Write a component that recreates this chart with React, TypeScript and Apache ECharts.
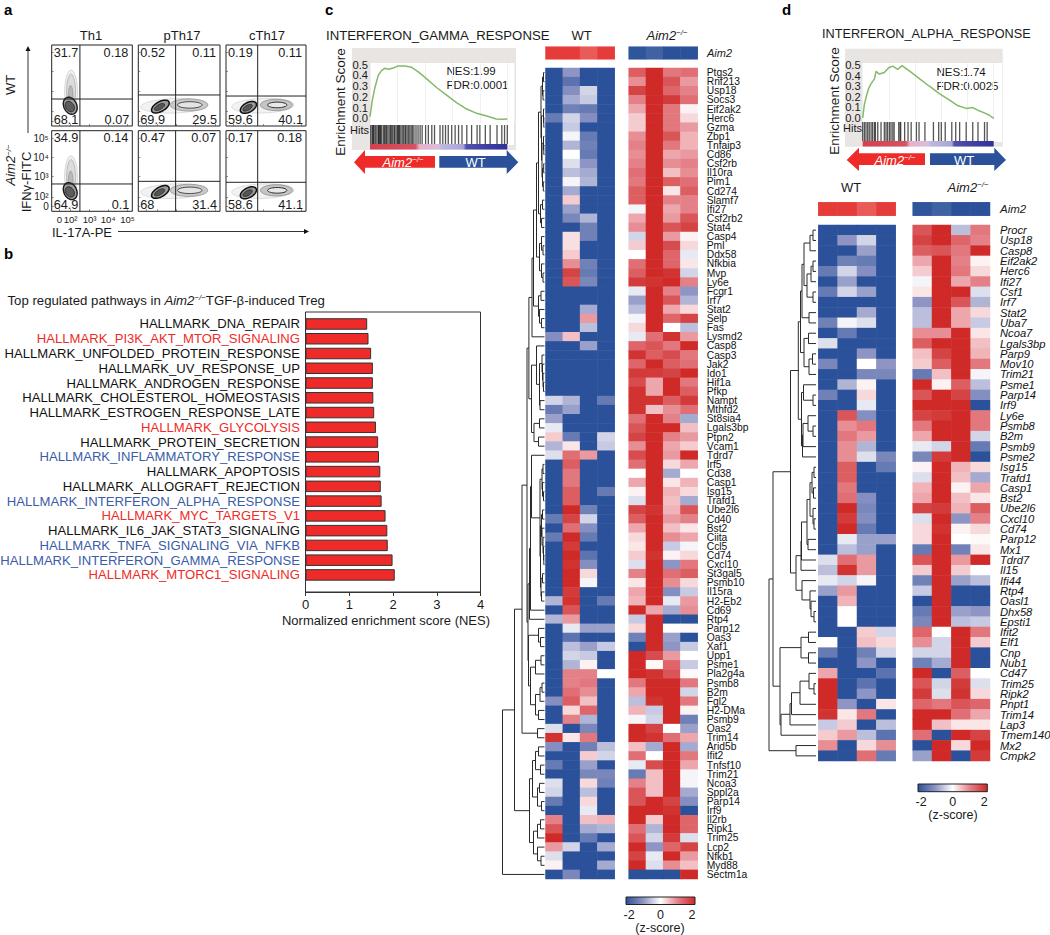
import React, { useEffect, useRef } from "react";
import * as echarts from "echarts";

const FONT = '"Liberation Sans", Arial, sans-serif';
const BLUE = "#2a5199";
const RED = "#ee2b28";
const HEAT = ["#2a5199", "#8e95c4", "#ffffff", "#e48088", "#cf2a27"];

// ---------- panel a
const flowCols = ["Th1", "pTh17", "cTh17"];
const flowTL = [["31.7", "0.52", "0.19"], ["34.9", "0.47", "0.17"]];
const flowTR = [["0.18", "0.11", "0.11"], ["0.14", "0.07", "0.18"]];
const flowBL = [["68.1", "69.9", "59.6"], ["64.9", "68", "58.6"]];
const flowBR = [["0.07", "29.5", "40.1"], ["0.1", "31.4", "41.1"]];
const gates = [
  [[35, 33.3], [45.7, 38.3], [39.6, 37]],
  [[35, 33.9], [45.7, 37.2], [39.6, 36]],
];
// cx, cy, rx, ry, rotation, fill, stroke, line width
const blobsTh1: any[] = [
  [24, 42, 8, 27, 0, "#efefef", "#c4c4c4", 0.6],
  [24, 42, 5.5, 22, 0, "#dcdcdc", "#a8a8a8", 0.7],
  [23.5, 36, 3, 14, 0, "#b9b9b9", "#8a8a8a", 0.6],
  [23, 25, 8, 11, 25, "#9c9c9c", "#1c1c1c", 1.4],
  [22.5, 24, 5, 7, 35, "#5d5d5d", "#222222", 0.9],
];
const blobsPTh17: any[] = [
  [44, 25, 41, 9, 2, "#f2f2f2", "#c9c9c9", 0.6],
  [62, 26, 23, 7.5, 0, "#c9c9c9", "#8a8a8a", 0.7],
  [63, 26, 15, 4, 0, "#e4e4e4", "#3a3a3a", 0.9],
  [27, 24, 12, 6, 30, "#999999", "#111111", 1.5],
  [26, 23.5, 7, 3, 30, "#555555", "#222222", 0.8],
];
const blobsCTh17: any[] = [
  [46, 25, 39, 9, 2, "#f2f2f2", "#c9c9c9", 0.6],
  [63, 26, 20, 7, 0, "#c4c4c4", "#828282", 0.7],
  [64, 26, 12, 3.5, 0, "#e8e8e8", "#2a2a2a", 1],
  [28, 23, 11, 6, 28, "#999999", "#111111", 1.5],
  [27, 22.5, 6.5, 3, 30, "#555555", "#222222", 0.8],
];
const flowXTicks = [9.5, 23.5, 47, 70, 94];
const flowXLabels = ["0", "10²", "10³", "10⁴", "10⁵"];
const flowYTicks = [5.8, 18, 43, 67, 90.5];
const flowYLabels = ["0", "10²", "10³", "10⁴", "10⁵"];

// ---------- panel b
const pathways = [
  "HALLMARK_DNA_REPAIR", "HALLMARK_PI3K_AKT_MTOR_SIGNALING", "HALLMARK_UNFOLDED_PROTEIN_RESPONSE",
  "HALLMARK_UV_RESPONSE_UP", "HALLMARK_ANDROGEN_RESPONSE", "HALLMARK_CHOLESTEROL_HOMEOSTASIS",
  "HALLMARK_ESTROGEN_RESPONSE_LATE", "HALLMARK_GLYCOLYSIS", "HALLMARK_PROTEIN_SECRETION",
  "HALLMARK_INFLAMMATORY_RESPONSE", "HALLMARK_APOPTOSIS", "HALLMARK_ALLOGRAFT_REJECTION",
  "HALLMARK_INTERFERON_ALPHA_RESPONSE", "HALLMARK_MYC_TARGETS_V1", "HALLMARK_IL6_JAK_STAT3_SIGNALING",
  "HALLMARK_TNFA_SIGNALING_VIA_NFKB", "HALLMARK_INTERFERON_GAMMA_RESPONSE", "HALLMARK_MTORC1_SIGNALING",
];
const pathwayColors = ["#111", "#ee2b28", "#111", "#111", "#111", "#111", "#111", "#ee2b28", "#111", "#3a5ba8", "#111", "#111", "#3a5ba8", "#ee2b28", "#111", "#3a5ba8", "#3a5ba8", "#ee2b28"];
const nes = [1.41, 1.44, 1.5, 1.54, 1.54, 1.55, 1.57, 1.61, 1.66, 1.68, 1.71, 1.72, 1.74, 1.83, 1.87, 1.88, 1.99, 2.04];

// ---------- GSEA
const gammaX = [0, 1.7, 3.6, 6, 8.5, 10.9, 13.3, 17, 20.6, 25.5, 30.3, 35.2, 41.3, 48.5, 55.8, 63, 70.4, 77.7, 85, 92, 96, 100];
const gammaES = [0.015, 0.17, 0.287, 0.4, 0.447, 0.466, 0.457, 0.469, 0.488, 0.488, 0.475, 0.432, 0.367, 0.287, 0.216, 0.145, 0.086, 0.046, 0.022, -0.006, -0.009, -0.006];
const gammaHits = [0.5, 1.5, 2, 2.5, 3, 4, 5, 6, 6.3, 7, 7.5, 8, 8.7, 10, 10.5, 11.5, 12, 13, 14, 15, 15.5, 16.5, 17.5, 18, 19, 20, 20.5, 21, 21.5, 22.5, 23.5, 24.5, 25.5, 26, 27, 28, 29, 30, 31, 32, 33.5, 35, 36.5, 38, 40.5, 42.5, 45, 47, 51, 53, 55, 57, 59.5, 62, 64.5, 67, 70.5, 74, 78, 80, 84, 87.5, 92.5, 96, 98, 100];
const alphaX = [0, 1.3, 3, 4.6, 6.4, 9, 10.2, 12.7, 16.5, 19.8, 22.9, 26.7, 30, 35.6, 43, 50.9, 58.5, 66, 72.5, 78.9, 84, 87.8, 92.9, 96.7, 100];
const alphaES = [0, 0.13, 0.215, 0.28, 0.325, 0.37, 0.44, 0.415, 0.43, 0.475, 0.49, 0.46, 0.495, 0.445, 0.375, 0.3, 0.23, 0.17, 0.117, 0.09, 0.098, 0.073, 0.047, 0.025, -0.005];
const alphaHits = [0, 1.3, 2.5, 3.8, 5, 6.4, 7.6, 9, 9.7, 11.5, 14, 16.5, 17.8, 19, 20.4, 21.6, 23, 24, 27.5, 28.5, 29, 32, 34.6, 37, 41, 43, 47.5, 54, 58, 60, 63, 68, 71, 74, 79, 84, 88, 93, 95];
const esTicks = [0, 0.1, 0.2, 0.3, 0.4, 0.5];
const zTicks = [-2, 0, 2];

// ---------- panel c
const cGenes = ["Ptgs2", "Rnf213", "Usp18", "Socs3", "Eif2ak2", "Herc6", "Gzma", "Zbp1", "Tnfaip3", "Cd86", "Csf2rb", "Il10ra", "Pim1", "Cd274", "Slamf7", "Ifi27", "Csf2rb2", "Stat4", "Casp4", "Pml", "Ddx58", "Nfkbia", "Mvp", "Ly6e", "Fcgr1", "Irf7", "Stat2", "Selp", "Fas", "Lysmd2", "Casp8", "Casp3", "Jak2", "Ido1", "Hif1a", "Pfkp", "Nampt", "Mthfd2", "St8sia4", "Lgals3bp", "Ptpn2", "Vcam1", "Tdrd7", "Irf5", "Cd38", "Casp1", "Isg15", "Trafd1", "Ube2l6", "Cd40", "Bst2", "Ciita", "Ccl5", "Cd74", "Cxcl10", "St3gal5", "Psmb10", "Il15ra", "H2-Eb2", "Cd69", "Rtp4", "Parp12", "Oas3", "Xaf1", "Upp1", "Psme1", "Pla2g4a", "Psmb8", "B2m", "Fgl2", "H2-DMa", "Psmb9", "Oas2", "Trim14", "Arid5b", "Ifit2", "Tnfsf10", "Trim21", "Ncoa3", "Sppl2a", "Parp14", "Irf9", "Il2rb", "Ripk1", "Trim25", "Lcp2", "Nfkb1", "Myd88", "Sectm1a"];
const cWT = [
  [-2,-1,-2,-2],[-2,-1.5,-2,-2],[-2,-1.1,-.4,-2],[-2,-.8,-.5,-2],[-2,-1.3,-1.4,-2],[-1.4,-.4,-1.1,-2],[-2,-.5,-2,-2],[-2,-.1,-1.4,-2],[-2,-.7,-1.3,-2],[-2,0,-1.4,-2],
  [-2,-.3,-1,-2],[-2,-.6,-.8,-2],[-2,-.1,-.7,-2],[-2,-.8,-2,-2],[-2,.4,-2,-2],[-2,-.9,-2,-2],[-2,-1.2,-.7,-2],[-2,-2,-1.3,-2],[-2,.25,-1.3,-2],[-2,.25,-2,-2],
  [-2,.4,-2,-2],[-2,.9,-1.3,-2],[-2,1.7,-1.4,-2],[-2,1.5,-1.2,-2],[-2,-2,-2,-2],[-2,-2,-2,-2],[-2,-2,-.8,-2],[-2,-2,.8,-2],[-2,-2,-.6,-2],[-1.1,.5,-2,-2],
  [-2,-2,-.9,-2],[-2,-2,-2,-2],[-2,-2,-2,-2],[-2,-2,-2,-2],[-2,-2,-2,-2],[-2,-2,-2,-2],[-.4,-.7,-2,-1.4],[-1.4,-.9,-2,-2],[-.9,-2,-2,-2],[-.2,-2,-2,-2],
  [.4,-1.4,-2,-.4],[-.7,.2,-2,-.5],[-.3,1.2,.8,-2],[-2,1.4,-2,-2],[-2,1.1,-2,-2],[-2,1.1,-2,-2],[-2,1.4,-2,-1.4],[-2,1.4,-2,-2],[-2,2,-1.3,-2],[-1.4,1.7,-.4,-2],
  [-2,1.2,-1.1,-2],[-1.4,2,-1.4,-2],[-2,1.8,-2,-2],[-2,2,-1.5,-2],[-2,1.9,-1.1,-2],[-2,2,.3,-2],[-2,2,-.1,-2],[-2,1.8,-2,-2],[-.7,1.9,-2,-1.4],[-2,1.5,-2,-2],
  [-.7,.8,-2,-2],[-2,-.2,-.9,-.9],[-2,-1.5,-2,-2],[-2,-.6,-.9,-.5],[-2,-.4,-.5,-2],[-2,-.7,.1,-2],[-2,1,1,0],[-2,1,1.1,-2],[-2,1.2,.9,-2],[-1.1,1.4,.5,-2],
  [-2,.3,1.3,-2],[-2,1,-.7,-2],[-.3,-2,-1.2,-2],[1.9,.2,1.1,-2],[-1.1,-2,-1.3,-.6],[-2,-2,.4,-.4],[-1.4,-2,-.9,-2],[-2,-2,-1.2,-1.2],[-.3,-2,.3,-1.3],[-.4,-2,-.6,-2],
  [-1.4,-2,.3,-2],[-2,-2,-.2,-2],[1,-2,.5,.6],[1.5,-2,-.8,-.7],[2,-2,-1.4,-2],[.8,-.4,-2,-.8],[-.3,-2,-2,-2],[.1,-2,-2,-.8],[-2,-1.2,-2,-2],
];
const cKO = [
  [1.4,2,1.1,1.2],[.9,2,1.5,.8],[1.7,2,1.3,1],[1,2,1.8,1.2],[.7,2,1.1,.1],[.4,2,1.1,.3],[.4,2,1.1,.8],[.9,2,1.5,.6],[1,2,1.1,.6],[.9,2,.7,.8],
  [1,2,.9,1],[1.2,2,.5,.9],[1.1,2,1.4,1.2],[1.4,2,.2,1.4],[1.4,2,1,1],[-.1,2,.7,1],[.7,2,.8,1.5],[.9,2,1.5,1.7],[-.4,2,.8,.1],[.4,2,1.6,.3],
  [0,2,1.3,-.2],[1.2,2,1.3,.2],[1.4,2,1.9,-.4],[1.8,1.9,2,1],[-.2,2,1,-1],[-.9,2,1.5,-.7],[-.6,2,.7,.3],[-.1,2,1.3,1.7],[.3,2,0,-.6],[-.2,1.2,1.9,.8],
  [1.3,1.5,1.1,2],[1.9,1.4,1.6,1.1],[1.3,2,1.4,1.2],[1.8,1.8,1.7,2],[1.6,.7,2,1.1],[1.9,.7,2,1.4],[1.9,1.9,1.4,1.8],[1.9,.5,.9,1.2],[1.2,2,1,-.8],[1.5,2,2,.5],
  [1.7,2,1,.8],[.9,2,.7,.4],[1.6,2,.8,2],[1.2,2,.3,.7],[0,2,-.8,0],[.7,2,.2,.6],[.1,2,.6,.3],[-.3,2,.5,-.8],[1.7,1.9,.6,1.5],[1.4,2,.8,1],
  [.7,2,.5,.2],[.3,2,.9,.7],[.2,2,-.5,-.1],[.4,1.9,.1,.3],[-.3,2,-1,1.1],[1,2,1.2,1.4],[.2,2,.9,.3],[.7,2,-1.1,-.5],[.6,2,-.2,.8],[2,.7,-.8,.9],
  [-.5,2,-2,-2],[.3,2,0,.05],[-1.3,2,-.9,-2],[-2,2,-1,-.5],[2,1.6,.8,0],[2,.05,1.3,-.5],[2,1.9,1.5,.05],[1.1,2,2,1.1],[.7,2,2,-.4],[-.6,1.9,2,1.1],
  [.6,-.5,2,.1],[-.1,-.4,2,-1.3],[2,1.7,0,-.9],[2,1.9,1.2,.7],[.5,-.8,2,-.8],[1.2,0,2,1.1],[-.2,1.6,2,.7],[-1.4,.5,2,-.1],[1,.5,2,-.1],[1.5,.5,2,-.8],
  [1.5,2,1.7,-1.1],[2,2,1.9,-2],[2,.4,2,1.3],[1.2,-.7,2,1.3],[1.5,-.4,1.8,-.3],[2,-1,1.3,1.7],[1.7,-.2,2,.8],[2,-.3,.9,.5],[-2,-2,-2,2],
];
const aim2WT = [1.9, 1.9, 1.6, 1.9];
const aim2KO = [-1.95, -1.8, -2, -2];
// tree node: [height, left, right]; a plain number is a heat-map row
const cU1 = [3.5, [2, [1, 0, 1], [1.5, 2, 3]], [3, [1, 4, [0.7, 5, 6]], [2.5, [1, 7, [0.7, 8, 9]], [2, [0.8, 10, 11], [1.2, 12, 13]]]]];
const cU = [6, cU1, [4, [2, 14, 15], [3, 16, 17]]];
const cV = [5, [3, 18, [1.5, 19, 20]], [3, 21, [1.5, 22, 23]]];
const cW = [6, [3.5, 24, 25], [5, 26, [3, 27, 28]]];
const cX1 = [12.5, [11, [8, cU, cV], cW], 29];
const cA1 = [8, 30, [5, [2.5, 31, [2, 32, [1.5, 33, [1, 34, 35]]]], [4.5, 36, 37]]];
const cX = [15.6, cX1, [13, cA1, [10.5, [5, 38, 39], [6, 40, 41]]]];
const cB1 = [4.5, [2.5, [1.5, 43, 44], [2, 45, [1, 46, 47]]], [4, [3, [2, 48, 49], [2.5, 50, [1.5, 51, [1, 52, [0.7, 53, 54]]]]], [3.5, [2, 55, 56], [3, 57, 58]]]];
const cY3 = [15, [14, [13, 42, cB1], 59], 60];
const cZ3 = [9, [4.5, [2.5, 67, 68], 69], [6, 70, 71]];
const cZ5 = [16, [6, 61, [4, 62, 63]], [14, [9, [3.5, 64, 65], 66], cZ3]];
const cB = [22.5, [17.5, cX, [16.5, cY3, cZ5]], [7, 72, 73]];
const cC = [15, [12, [9, [6, 74, 75], [4, 76, 77]], [7, [5, 78, 79], [3, 80, 81]]], [11, [7, [4, 82, 83], 84], [7, 85, [3.5, 86, 87]]]];
const cTree = [42, [30, cB, cC], 88];

// ---------- panel d
const dGenes = ["Procr", "Usp18", "Casp8", "Eif2ak2", "Herc6", "Ifi27", "Csf1", "Irf7", "Stat2", "Uba7", "Ncoa7", "Lgals3bp", "Parp9", "Mov10", "Trim21", "Psme1", "Parp14", "Irf9", "Ly6e", "Psmb8", "B2m", "Psmb9", "Psme2", "Isg15", "Trafd1", "Casp1", "Bst2", "Ube2l6", "Cxcl10", "Cd74", "Parp12", "Mx1", "Tdrd7", "Il15", "Ifi44", "Rtp4", "Oasl1", "Dhx58", "Epsti1", "Ifit2", "Elf1", "Cnp", "Nub1", "Cd47", "Trim25", "Ripk2", "Pnpt1", "Trim14", "Lap3", "Tmem140", "Mx2", "Cmpk2"];
const dWT = [
  [-2,-2,-2,-2],[-2,-1,-.4,-2],[-2,-2,-.9,-2],[-2,-1.3,-1.4,-2],[-1.4,-.4,-1.1,-2],[-2,-.9,-2,-2],[-1.4,-.4,-.9,-2],[-2,-2,-2,-2],[-2,-2,-.8,-2],[-1.3,-.1,-.3,-2],
  [-2,-1.4,-2,-2],[-.3,-2,-2,-2],[-2,-2,-1,-2],[-1.2,-2,0,-1],[-2,-2,-1.2,-1.2],[-2,-.7,.1,-2],[-1.3,-2,.3,-2],[-2,-2,-.2,-2],[-2,1.5,-1.1,-2],[-2,.9,1.1,-2],
  [-2,1.1,.8,-2],[-2,.9,-.7,-2],[-2,.9,-.3,-1.2],[-2,1.4,-2,-1.4],[-2,1.4,-2,-2],[-2,1.1,-2,-2],[-2,1.2,-1.1,-2],[-2,2,-1.2,-2],[-2,1.8,-1.1,-2],[-2,2,-1.4,-2],
  [-2,-.2,-.9,-.9],[-2,-.6,-.9,-2],[-.3,1.2,.8,-2],[-.6,1.9,.8,-2],[-.2,-.4,-.1,-2],[-.9,.8,-2,-2],[-2,.6,-2,-2],[-2,0,-2,-2],[-2,0,-2,-2],[-2,-2,.4,-.4],
  [0,-2,.5,.3],[-1.4,-2,-1.3,-.4],[-2,-2,-1,-2],[.7,-2,-2,-1.5],[2,-2,-1.5,-2],[2,-2,-1,-2],[2,-1,-2,.2],[1.9,.2,1.1,-2],[-.5,.4,-2,-.6],[.4,.8,-.6,-1.5],
  [.9,-2,.3,.9],[-2,-2,1.2,-1.4],
];
const dKO = [
  [1.5,2,-.6,1.1],[1.7,2,1.3,1],[1.4,1.5,1.1,2],[.7,2,1,.1],[.4,2,1.1,.3],[-.1,2,.7,1],[.2,2,2,-.3],[-1,2,1.5,-.7],[-.6,2,.7,.3],[-.6,2,.7,-.5],
  [.9,.9,2,.2],[1.4,2,2,.5],[.5,1.7,2,.6],[.4,1.4,2,1.1],[-1.4,.5,2,-.1],[2,.1,1.4,-.6],[1.5,2,1.7,-1.1],[2,2,2,-2],[1.7,1.8,2,1.1],[1.1,2,2,1.1],
  [.7,2,2,-.4],[-.2,-.4,2,-1.4],[-1.2,1.8,2,-2],[.1,2,.6,.3],[-.3,2,.5,-.8],[.6,2,.1,.7],[.7,2,.5,.2],[1.7,1.8,.6,1.4],[-.3,2,-1,1],[.3,1.9,.1,.3],
  [.3,2,0,.05],[-1.4,2,-1.3,.2],[1.5,2,.8,2],[.4,2,.4,0],[-1.3,2,-.9,-.6],[-.5,2,-2,-2],[-2,2,-2,-2],[-1.4,2,-.9,-1],[-1.2,2,-.6,-.5],[1.3,0,2,1.1],
  [.9,-.4,2,.4],[-.4,-.4,2,-2],[-1.3,-.8,2,-2],[2,-2,1.4,0],[1.5,-.4,1.8,-.3],[1.8,-.3,1.9,.3],[1.3,1.1,1.5,1.3],[2,2,1.2,.7],[2,.5,.2,.2],[1.2,-2,2,1.7],
  [-2,2,.3,2],[-.9,2,-2,1.8],
];
const dP = [14, [12, [6, [3, 0, 1], 2], [9, [5, [3, 3, 4], 5], [3, 6, 7]]], [7, 8, 9]];
const dQ = [12, [7.5, 10, 11], [7, [3.5, 12, 13], 14]];
const dT1 = [6, [4, [2, 23, 24], [2.5, 25, 26]], [3, 27, [2, 28, 29]]];
const dTU = [20, [15, [14.5, [9, dT1, [8, 30, 31]], 32], 33], [14, 34, [6, 35, [5, 36, [2, 37, 38]]]]];
const dRS = [14.5, [12.5, 15, [3, 16, 17]], [13.5, [13, [8, 18, [3, 19, 20]], 21], 22]];
const dUpper = [25.5, [17.7, [15.5, dP, dQ], dRS], dTU];
const dLower = [36, [15, [7.5, 39, 40], [7.5, 41, 42]], [35, [26, [24.5, [16, [7, 43, [2, 44, 45]], 46], 47], 48], 49]];
const dTree = [47, [43, dUpper, dLower], [20, 50, 51]];

const columns = ["1", "2", "3", "4"];

function App() {
  const ref = useRef<HTMLDivElement>(null);
  useEffect(() => {
    document.body.style.margin = "0";
    const chart = echarts.init(ref.current!, undefined, { renderer: "svg" });
    const grids: any[] = [], xAxes: any[] = [], yAxes: any[] = [], series: any[] = [], graphics: any[] = [];

    const hidden = (min: number, max: number, inverse = false) => ({ type: "value", show: false, min, max, inverse, splitLine: { show: false } });
    const addGrid = (r: number[], x: any, y: any, extra: any = {}) => {
      const i = grids.length;
      grids.push({ left: r[0], top: r[1], width: r[2], height: r[3], containLabel: false, outerBoundsMode: "none", ...extra });
      xAxes.push({ gridIndex: i, ...x });
      yAxes.push({ gridIndex: i, ...y });
      return i;
    };
    const text = (t: string, x: number, y: number, o: any = {}) => {
      graphics.push({
        type: "text", x, y, rotation: o.rotation || 0, silent: true,
        style: { text: t, fontFamily: FONT, fontSize: o.size || 12, fontStyle: o.italic ? "italic" : "normal", fontWeight: o.bold ? "bold" : "normal", fill: o.color || "#1a1a1a", align: o.align || "left", verticalAlign: "middle", rich: o.rich },
      });
    };
    const richFor = (size: number, color = "#1a1a1a") => ({
      n: { fontFamily: FONT, fontSize: size, fill: color, color },
      i: { fontFamily: FONT, fontSize: size, fontStyle: "italic", fill: color, color },
      s: { fontFamily: FONT, fontSize: size * 0.6, fontStyle: "italic", fill: color, color, verticalAlign: "top" },
    });
    const AIM = "{i|Aim2}{s|−/−}";

    // letters
    text("a", 4, 9, { size: 15, bold: true, color: "#000" });
    text("b", 4, 253, { size: 15, bold: true, color: "#000" });
    text("c", 325, 9, { size: 15, bold: true, color: "#000" });
    text("d", 782, 9, { size: 15, bold: true, color: "#000" });

    // ---- panel a
    const colX = [[51.7, 80.6], [138.3, 81.7], [226, 80]];
    const rowY = [[45, 81], [130.7, 80.6]];
    const blobSets = [blobsTh1, blobsPTh17, blobsCTh17];
    rowY.forEach((ry, r) => colX.forEach((cx, c) => {
      const first = r === 1 && c === 0;
      const g = addGrid([cx[0], ry[0], cx[1], ry[1]],
        {
          type: "value", min: 0, max: 100, splitLine: { show: false }, axisLine: { show: false },
          axisTick: { show: true, inside: true, length: 2, customValues: flowXTicks, lineStyle: { color: "#444", width: 0.6 } },
          axisLabel: first ? { show: true, customValues: flowXTicks, showMinLabel: true, showMaxLabel: true, formatter: (v: number) => flowXLabels[flowXTicks.indexOf(v)], fontFamily: FONT, fontSize: 9.6, color: "#222", margin: 3 } : { show: false },
        },
        {
          type: "value", min: 0, max: 100, splitLine: { show: false }, axisLine: { show: false },
          axisTick: { show: true, inside: true, length: 2, customValues: flowYTicks, lineStyle: { color: "#444", width: 0.6 } },
          axisLabel: first ? { show: true, customValues: flowYTicks, showMinLabel: true, showMaxLabel: true, formatter: (v: number) => flowYLabels[flowYTicks.indexOf(v)], fontFamily: FONT, fontSize: 10, color: "#222", margin: 3 } : { show: false },
        },
        { show: true, borderColor: "#222", borderWidth: 1, backgroundColor: "#fff" });
      const blobs = blobSets[c];
      series.push({
        type: "custom", xAxisIndex: g, yAxisIndex: g, silent: true,
        data: blobs.map((b) => [b[0], b[1]]), encode: { x: 0, y: 1 },
        renderItem: (p: any, api: any) => {
          const b = blobs[p.dataIndex];
          const rad = (b[4] * Math.PI) / 180;
          const pts: number[][] = [];
          for (let k = 0; k < 40; k++) {
            const t = (k / 40) * 2 * Math.PI;
            pts.push(api.coord([
              b[0] + b[2] * Math.cos(t) * Math.cos(rad) - b[3] * Math.sin(t) * Math.sin(rad),
              b[1] + b[2] * Math.cos(t) * Math.sin(rad) + b[3] * Math.sin(t) * Math.cos(rad),
            ]));
          }
          return { type: "polygon", shape: { points: pts }, style: { fill: b[5], stroke: b[6], lineWidth: b[7] } };
        },
      });
      const gate = gates[r][c];
      series.push({
        type: "custom", xAxisIndex: g, yAxisIndex: g, silent: true, data: [gate], encode: { x: 0, y: 1 }, z: 5,
        renderItem: (_p: any, api: any) => {
          const a = api.coord([gate[0], 0]), b = api.coord([gate[0], 100]), d = api.coord([0, gate[1]]), e = api.coord([100, gate[1]]);
          return {
            type: "group", children: [
              { type: "line", shape: { x1: a[0], y1: a[1], x2: b[0], y2: b[1] }, style: { stroke: "#222", lineWidth: 1 } },
              { type: "line", shape: { x1: d[0], y1: d[1], x2: e[0], y2: e[1] }, style: { stroke: "#222", lineWidth: 1 } },
            ],
          };
        },
      });
      const fs = 12.7;
      text(flowTL[r][c], cx[0] + 2, ry[0] + 7.5, { size: fs });
      text(flowTR[r][c], cx[0] + cx[1] - 4, ry[0] + 7.5, { size: fs, align: "right" });
      text(flowBL[r][c], cx[0] + 2, ry[0] + ry[1] - 6, { size: fs });
      text(flowBR[r][c], cx[0] + cx[1] - 3, ry[0] + ry[1] - 6, { size: fs, align: "right" });
    }));
    flowCols.forEach((n, i) => text(n, [91, 182, 267][i], 35, { size: 13, align: "center" }));
    text("WT", 10.5, 85, { size: 13, align: "center", rotation: Math.PI / 2 });
    text(AIM, 10.5, 165, { size: 13, align: "center", rotation: Math.PI / 2, rich: richFor(13) });
    text("IFNγ-FITC", 26.5, 182, { size: 13, align: "center", rotation: Math.PI / 2 });
    text("IL-17A-PE", 52, 232, { size: 13 });
    graphics.push({ type: "line", shape: { x1: 28, y1: 133, x2: 28, y2: 50 }, style: { stroke: "#333", lineWidth: 1 } });
    graphics.push({ type: "polygon", shape: { points: [[28, 46], [25.5, 51], [30.5, 51]] }, style: { fill: "#111" } });
    graphics.push({ type: "line", shape: { x1: 118, y1: 231.5, x2: 304, y2: 231.5 }, style: { stroke: "#333", lineWidth: 1 } });
    graphics.push({ type: "polygon", shape: { points: [[309, 231.5], [304, 229], [304, 234]] }, style: { fill: "#111" } });

    // ---- panel b
    text("{n|Top regulated pathways in }" + AIM + "{n|TGF-β-induced Treg}", 7.5, 300, { size: 13.2, rich: richFor(13.2) });
    addGrid([305.5, 312, 175, 280],
      {
        type: "value", min: 0, max: 4, interval: 1, splitLine: { show: false },
        axisLine: { show: true, lineStyle: { color: "#333" } }, axisTick: { show: true, length: 4, lineStyle: { color: "#333" } },
        axisLabel: { fontFamily: FONT, fontSize: 13, color: "#1a1a1a", margin: 6 },
        name: "Normalized enrichment score (NES)", nameLocation: "middle", nameGap: 22,
        nameTextStyle: { fontFamily: FONT, fontSize: 13, color: "#1a1a1a", padding: [0, 14, 0, 0] },
      },
      hidden(0, 1),
      { show: true, borderColor: "#333", borderWidth: 1, backgroundColor: "transparent" });
    const gb = addGrid([305.5, 316.6, 175, 265.7],
      hidden(0, 4),
      {
        type: "category", inverse: true, data: pathways.map((p, i) => ({ value: p, textStyle: { color: pathwayColors[i] } })),
        axisLine: { show: false }, axisTick: { show: false },
        axisLabel: { interval: 0, fontFamily: FONT, fontSize: 13.1, margin: 5.5 },
      });
    series.push({ type: "bar", xAxisIndex: gb, yAxisIndex: gb, data: nes, barWidth: 11.5, silent: true, itemStyle: { color: RED, borderColor: "#333", borderWidth: 1 } });

    // ---- GSEA
    const stripStops = [
      { offset: 0, color: "#d6404f" }, { offset: 0.33, color: "#d6525f" }, { offset: 0.36, color: "#e6b0c8" },
      { offset: 0.5, color: "#dcbcdc" }, { offset: 0.52, color: "#bdb8e0" }, { offset: 0.68, color: "#a8a4d8" },
      { offset: 0.7, color: "#5050ac" }, { offset: 1, color: "#30309a" },
    ];
    const gsea = (o: any) => {
      addGrid(o.box, hidden(0, 1), hidden(0, 1), { show: true, backgroundColor: "#e8e5e3", borderWidth: 0 });
      const [wl, wt, ww, wh] = o.white;
      const xmax = (100 * ww) / o.dataW;
      addGrid([wl, wt + wh, ww, o.hitsBottom - wt - wh + 1], hidden(0, 1), hidden(0, 1), { show: true, backgroundColor: "#ffffff", borderWidth: 0 });
      const gl = addGrid(o.white,
        { type: "value", min: 0, max: xmax, axisLine: { show: false }, axisTick: { show: false }, axisLabel: { show: false }, splitLine: { show: true, lineStyle: { color: "#f0f0f0", width: 1 } } },
        {
          type: "value", min: o.ymin, max: o.ymax, axisLine: { show: false }, axisTick: { show: false },
          axisLabel: { show: false },
          splitLine: { show: false },
        },
        { show: true, backgroundColor: "#ffffff", borderWidth: 0 });
      series.push({
        type: "line", xAxisIndex: gl, yAxisIndex: gl, silent: true, showSymbol: false,
        data: o.x.map((v: number, i: number) => [v, o.y[i]]), lineStyle: { color: "#86b86a", width: 1.5 },
      });
      series.push({
        type: "custom", xAxisIndex: gl, yAxisIndex: gl, silent: true, clip: false, data: esTicks.map((v) => [0, v]), encode: { x: 0, y: 1 },
        renderItem: (p: any, api: any) => {
          const q = api.coord([0, esTicks[p.dataIndex]]);
          return {
            type: "text", x: q[0] - 2, y: q[1],
            style: { text: esTicks[p.dataIndex].toFixed(1), fontFamily: FONT, fontSize: 11.2, fill: "#1a1a1a", align: "right", verticalAlign: "middle" },
          };
        },
      });
      const gh = addGrid([wl, wt + wh + 2, ww, o.hitsBottom - wt - wh - 2], hidden(0, xmax), hidden(0, 1));
      series.push({
        type: "custom", xAxisIndex: gh, yAxisIndex: gh, silent: true, data: o.hits.map((v: number) => [v, 0]), encode: { x: 0, y: 1 },
        renderItem: (_p: any, api: any) => {
          const a = api.coord([api.value(0), 0]), b = api.coord([api.value(0), 1]);
          return { type: "line", shape: { x1: a[0], y1: a[1], x2: b[0], y2: b[1] }, style: { stroke: "#1c1c1c", lineWidth: 1.3, opacity: 0.75 } };
        },
      });
      addGrid([wl, o.hitsBottom, o.dataW, 5.5], hidden(0, 1), hidden(0, 1), {
        show: true, borderWidth: 0, backgroundColor: { type: "linear", x: 0, y: 0, x2: 1, y2: 0, colorStops: stripStops },
      });
      text("Hits", o.hitsX, o.hitsY, { size: 11, align: "right" });
      text("Enrichment Score", o.esX, o.esY, { size: 13.5, align: "center", rotation: Math.PI / 2 });
      text(o.nes, o.nesX, o.nesY, { size: 11.5 });
      text(o.fdr, o.nesX, o.nesY + 14, { size: 11.5 });
      graphics.push({ type: "polygon", shape: { points: o.redArrow }, style: { fill: RED } });
      graphics.push({ type: "polygon", shape: { points: o.blueArrow }, style: { fill: BLUE } });
      text(AIM, o.aimX, o.arrowY, { size: 13, align: "center", rich: richFor(13, "#ffffff") });
      text("WT", o.wtX, o.arrowY, { size: 13, align: "center", color: "#ffffff" });
    };
    gsea({
      box: [352, 48, 164, 102], white: [370, 63, 144, 60], dataW: 137.3, hitsBottom: 144, ymin: -0.044, ymax: 0.515,
      x: gammaX, y: gammaES, hits: gammaHits, hitsX: 369, hitsY: 130, esX: 340.5, esY: 102,
      nes: "NES:1.99", fdr: "FDR:0.0001", nesX: 446.5, nesY: 71,
      redArrow: [[354, 162.3], [365, 150], [365, 156], [435, 156], [435, 167.7], [365, 167.7], [365, 174]],
      blueArrow: [[439.3, 156], [506.7, 156], [506.7, 150], [518.3, 162.3], [506.7, 174], [506.7, 167.7], [439.3, 167.7]],
      aimX: 403, wtX: 475.7, arrowY: 162,
    });
    gsea({
      box: [845, 48.7, 157.7, 98], white: [862.7, 63, 139.3, 57], dataW: 131, hitsBottom: 141, ymin: -0.02, ymax: 0.52,
      x: alphaX, y: alphaES, hits: alphaHits, hitsX: 862, hitsY: 128, esX: 834, esY: 101,
      nes: "NES:1.74", fdr: "FDR:0.0025", nesX: 936.5, nesY: 71.5,
      redArrow: [[846.7, 160], [859, 147.7], [859, 153.3], [925, 153.3], [925, 165], [859, 165], [859, 171]],
      blueArrow: [[930, 153.3], [994.3, 153.3], [994.3, 147.7], [1006, 160], [994.3, 171], [994.3, 165], [930, 165]],
      aimX: 895, wtX: 964, arrowY: 160,
    });
    text("INTERFERON_GAMMA_RESPONSE", 326, 35, { size: 13.2 });
    text("INTERFERON_ALPHA_RESPONSE", 822, 34, { size: 12.7 });

    // ---- heat maps
    const heatIdx: number[] = [];
    const heat = (r: number[], rows: number[][], cats: string[], labelOpt: any) => {
      const g = addGrid(r,
        { type: "category", show: false, data: columns },
        {
          type: "category", inverse: true, data: cats, show: !!labelOpt, axisLine: { show: false }, axisTick: { show: false }, position: "right",
          axisLabel: labelOpt ? { interval: 0, fontFamily: FONT, color: "#111", hideOverlap: false, ...labelOpt } : { show: false },
        });
      heatIdx.push(series.length);
      const data: number[][] = [];
      rows.forEach((row, y) => row.forEach((v, x) => data.push([x, y, v])));
      series.push({ type: "heatmap", xAxisIndex: g, yAxisIndex: g, data, silent: true, progressive: 0 });
    };
    const stripIdx: number[] = [];
    const strip = (r: number[], vals: number[]) => {
      const g = addGrid(r, { type: "category", show: false, data: columns }, { type: "category", show: false, data: ["Aim2"] });
      stripIdx.push(series.length);
      series.push({ type: "heatmap", xAxisIndex: g, yAxisIndex: g, data: vals.map((v, x) => [x, 0, v]), silent: true });
    };
    const dendro = (r: number[], tree: any, hMax: number, n: number) => {
      const g = addGrid(r, hidden(0, hMax, true), hidden(-0.5, n - 0.5, true));
      const segs: number[][] = [];
      const walk = (node: any): { y: number; h: number } => {
        if (typeof node === "number") return { y: node, h: 0 };
        const a = walk(node[1]), b = walk(node[2]);
        segs.push([node[0], a.y, a.h, b.y, b.h]);
        return { y: (a.y + b.y) / 2, h: node[0] };
      };
      walk(tree);
      series.push({
        type: "custom", xAxisIndex: g, yAxisIndex: g, silent: true, data: segs, encode: { x: 0, y: 1 },
        renderItem: (p: any, api: any) => {
          const s = segs[p.dataIndex];
          return {
            type: "polyline",
            shape: { points: [api.coord([s[2], s[1]]), api.coord([s[0], s[1]]), api.coord([s[0], s[3]]), api.coord([s[4], s[3]])] },
            style: { fill: null, stroke: "#2a2a2a", lineWidth: 1 },
          };
        },
      });
    };
    const colorBar = (r: number[]) => {
      addGrid(r,
        { type: "value", min: -2.2, max: 2.2, splitLine: { show: false }, axisLine: { show: false }, axisTick: { show: false }, axisLabel: { customValues: zTicks, showMinLabel: true, showMaxLabel: true, fontFamily: FONT, fontSize: 12.5, color: "#1a1a1a", margin: 4 } },
        hidden(0, 1),
        {
          show: true, borderColor: "#222", borderWidth: 1,
          backgroundColor: { type: "linear", x: 0, y: 0, x2: 1, y2: 0, colorStops: HEAT.map((c, i) => ({ offset: i / 4, color: c })) },
        });
    };

    // panel c
    strip([545.5, 46.7, 69.2, 12.6], aim2WT);
    strip([628.7, 46.7, 69, 12.6], aim2KO);
    heat([545.5, 68, 69.2, 811], cWT, cGenes, null);
    heat([628.7, 68, 69, 811], cKO, cGenes, { fontSize: 10.3, margin: 9 });
    dendro([502, 68, 42.5, 811], cTree, 42.5, 89);
    text("WT", 581.5, 35, { size: 13, align: "center" });
    text(AIM, 667, 35, { size: 13, align: "center", rich: richFor(13) });
    text("Aim2", 707, 53, { size: 11, italic: true });
    colorBar([626, 897, 69, 7.5]);
    text("(z-score)", 660, 928, { size: 12.5, align: "center" });

    // panel d
    strip([818.3, 202.3, 77.4, 13.4], aim2WT);
    strip([912.7, 202.3, 77.3, 13.4], aim2KO);
    heat([818.3, 225, 77.4, 536], dWT, dGenes, null);
    heat([912.7, 225, 77.3, 536], dKO, dGenes, { fontSize: 11.2, margin: 10, fontStyle: "italic" });
    dendro([769, 225, 47, 536], dTree, 47, 52);
    text("WT", 851, 187, { size: 13, align: "center" });
    text(AIM, 968, 187, { size: 13, align: "center", rich: richFor(13) });
    text("Aim2", 1000, 209, { size: 11.5, italic: true });
    colorBar([918, 784, 69.3, 7.7]);
    text("(z-score)", 953, 815, { size: 12.5, align: "center" });

    chart.setOption({
      animation: false,
      backgroundColor: "#ffffff",
      grid: grids,
      xAxis: xAxes,
      yAxis: yAxes,
      series,
      visualMap: [
        { type: "continuous", show: false, min: -2, max: 2, dimension: 2, seriesIndex: heatIdx, inRange: { color: HEAT } },
        { type: "continuous", show: false, min: -2, max: 2, dimension: 2, seriesIndex: stripIdx, inRange: { color: ["#2a5199", "#ffffff", "#e4322f"] } },
      ],
      graphic: { elements: graphics },
    });
    return () => chart.dispose();
  }, []);
  return <div ref={ref} style={{ position: "absolute", left: 0, top: 0, width: 1050, height: 935 }} />;
}

export default App;
